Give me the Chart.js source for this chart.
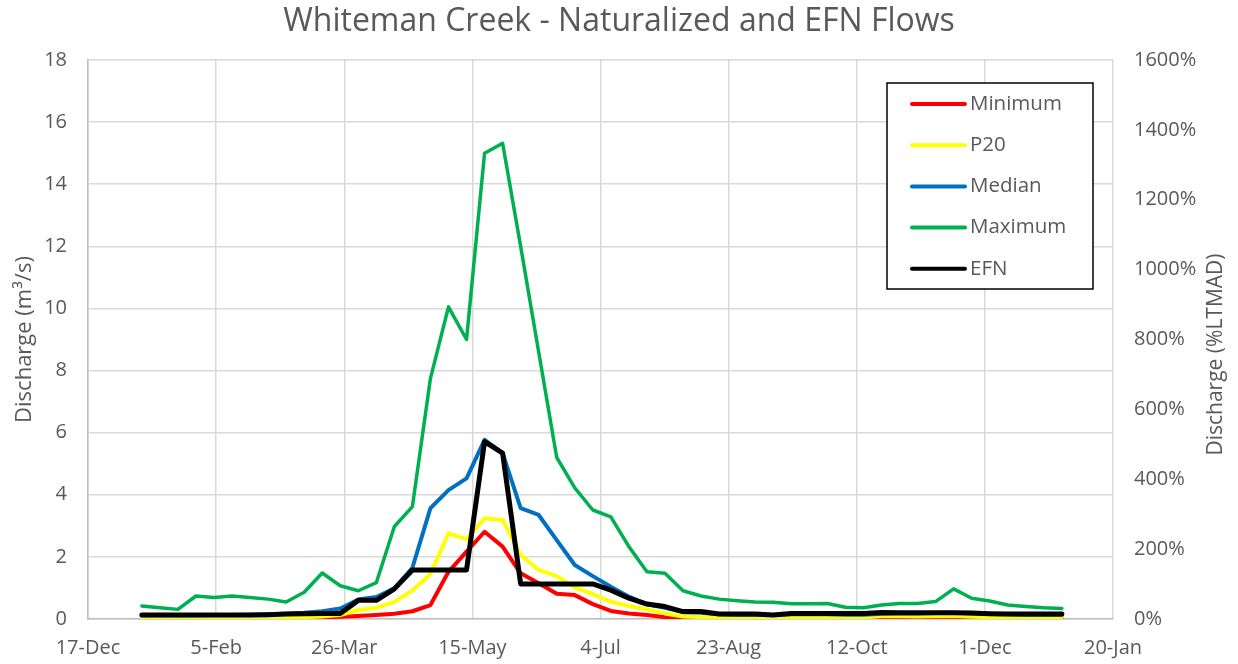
<!DOCTYPE html>
<html>
<head>
<meta charset="utf-8">
<script src="https://cdn.jsdelivr.net/npm/chart.js@4/dist/chart.umd.min.js"></script>
<style>
  html, body { margin: 0; padding: 0; background: #ffffff; }
  #wrap { width: 1238px; height: 664px; }
</style>
</head>
<body>
<div id="wrap"><canvas id="c" width="1238" height="664"></canvas></div>
<script>
// ---- data ----
const chartTitle = 'Whiteman Creek - Naturalized and EFN Flows';
const xTickLabels = ['17-Dec', '5-Feb', '26-Mar', '15-May', '4-Jul', '23-Aug', '12-Oct', '1-Dec', '20-Jan'];
const firstDay = 21;      // days after 17-Dec of first weekly value
const stepDays = 7.04;    // weekly values

const minimum = [0.02,0.02,0.02,0.02,0.02,0.02,0.02,0.02,0.02,0.03,0.05,0.07,0.10,0.13,0.17,0.25,0.45,1.52,2.17,2.81,2.33,1.47,1.15,0.81,0.77,0.48,0.26,0.18,0.13,0.06,0.04,0.03,0.02,0.02,0.02,0.01,0.02,0.02,0.02,0.02,0.03,0.05,0.05,0.04,0.05,0.06,0.04,0.03,0.03,0.03,0.03,0.03];
const p20 = [0.04,0.04,0.04,0.04,0.04,0.04,0.05,0.05,0.05,0.06,0.08,0.13,0.29,0.36,0.55,0.92,1.45,2.76,2.57,3.24,3.19,2.06,1.58,1.38,1.02,0.80,0.56,0.42,0.31,0.18,0.08,0.06,0.05,0.05,0.05,0.04,0.05,0.05,0.05,0.05,0.05,0.09,0.09,0.08,0.09,0.10,0.07,0.06,0.06,0.06,0.06,0.06];
const median = [0.12,0.12,0.12,0.12,0.13,0.13,0.14,0.15,0.17,0.20,0.25,0.34,0.63,0.71,0.99,1.65,3.57,4.15,4.53,5.77,5.34,3.57,3.35,2.54,1.74,1.38,1.04,0.72,0.47,0.36,0.22,0.20,0.15,0.14,0.14,0.13,0.15,0.15,0.15,0.14,0.14,0.17,0.18,0.18,0.19,0.20,0.18,0.16,0.15,0.14,0.14,0.14];
const maximum = [0.42,0.36,0.31,0.74,0.69,0.74,0.69,0.64,0.55,0.86,1.48,1.07,0.91,1.17,2.98,3.62,7.75,10.05,9.00,15.00,15.32,12.00,8.60,5.20,4.22,3.51,3.29,2.33,1.52,1.47,0.91,0.74,0.64,0.59,0.55,0.54,0.49,0.49,0.50,0.38,0.36,0.45,0.50,0.50,0.56,0.97,0.67,0.58,0.45,0.40,0.36,0.34];
const efn = [0.13,0.13,0.13,0.13,0.13,0.13,0.13,0.14,0.16,0.17,0.18,0.18,0.60,0.60,0.97,1.58,1.58,1.58,1.58,5.71,5.34,1.13,1.13,1.13,1.13,1.13,0.93,0.67,0.48,0.40,0.24,0.24,0.16,0.16,0.16,0.13,0.18,0.18,0.18,0.18,0.18,0.21,0.20,0.20,0.20,0.20,0.19,0.17,0.16,0.16,0.16,0.16];

const seriesNames = ['Minimum', 'P20', 'Median', 'Maximum', 'EFN'];
const seriesValues = [minimum, p20, median, maximum, efn];
const seriesColors = ['#FF0000', '#FFFF00', '#0070C0', '#00B050', '#000000'];
const seriesWidths = [4, 4, 4, 3.5, 5];

const leftAxisTitle = 'Discharge (m\u00B3/s)';
const rightAxisTitle = 'Discharge (%LTMAD)';

const FONT = "'Open Sans', 'Liberation Sans', sans-serif";
const TEXT = '#595959';
const GRID = '#d9d9d9';

const toPoints = vals => vals.map((v, i) => ({ x: firstDay + i * stepDays, y: v }));

const datasets = seriesNames.map((name, k) => ({
  label: name,
  data: toPoints(seriesValues[k]),
  borderColor: seriesColors[k],
  backgroundColor: seriesColors[k],
  borderWidth: seriesWidths[k],
  pointRadius: 0,
  tension: 0,
  fill: false,
  order: seriesNames.length - k,
  borderJoinStyle: 'round',
  borderCapStyle: 'round',
  yAxisID: 'y'
}));

// legend box drawn inside the plot area
const boxLegend = {
  id: 'boxLegend',
  afterDatasetsDraw(chart) {
    const { ctx, chartArea } = chart;
    const w = 206, h = 206;
    const x0 = chartArea.right - 20 - w;
    const y0 = chartArea.top + 23;
    ctx.save();
    ctx.fillStyle = '#ffffff';
    ctx.fillRect(x0, y0, w, h);
    ctx.strokeStyle = '#000000';
    ctx.lineWidth = 1.5;
    ctx.strokeRect(x0, y0, w, h);
    ctx.font = "20.5px " + FONT;
    ctx.textBaseline = 'middle';
    ctx.textAlign = 'left';
    chart.data.datasets.forEach((ds, i) => {
      const cy = y0 + 21 + i * 41.2;
      ctx.beginPath();
      ctx.strokeStyle = ds.borderColor;
      ctx.lineWidth = 4;
      ctx.lineCap = 'round';
      ctx.moveTo(x0 + 25, cy);
      ctx.lineTo(x0 + 78, cy);
      ctx.stroke();
      ctx.fillStyle = TEXT;
      ctx.fillText(ds.label, x0 + 83, cy);
    });
    ctx.restore();
  }
};

// right-axis title, reading bottom-to-top like the left one
const rightTitle = {
  id: 'rightTitle',
  afterDraw(chart) {
    const { ctx, chartArea } = chart;
    ctx.save();
    ctx.translate(1216, (chartArea.top + chartArea.bottom) / 2 + 15);
    ctx.rotate(-Math.PI / 2);
    ctx.font = "21px " + FONT;
    ctx.fillStyle = TEXT;
    ctx.textAlign = 'center';
    ctx.textBaseline = 'middle';
    ctx.fillText(rightAxisTitle, 0, 0);
    ctx.restore();
  }
};

new Chart(document.getElementById('c'), {
  type: 'line',
  data: { datasets },
  options: {
    responsive: false,
    animation: false,
    devicePixelRatio: 1,
    layout: { padding: 0 },
    plugins: {
      legend: { display: false },
      tooltip: { enabled: false },
      title: {
        display: true,
        text: chartTitle,
        color: TEXT,
        font: { family: FONT, size: 32, weight: 'normal', lineHeight: 1.2 },
        padding: { top: 3, bottom: 18.6 }
      }
    },
    scales: {
      x: {
        type: 'linear',
        min: 0,
        max: 400,
        afterFit(scale) { scale.height = 45; },
        afterBuildTicks(scale) {
          scale.ticks = xTickLabels.map((_, i) => ({ value: i * 50 }));
        },
        ticks: {
          color: TEXT,
          font: { family: FONT, size: 20 },
          padding: 17,
          maxRotation: 0,
          autoSkip: false,
          callback: (v, i) => xTickLabels[i]
        },
        grid: { color: GRID, lineWidth: 1.5, drawTicks: false },
        border: { color: '#bfbfbf', width: 1.5 }
      },
      y: {
        type: 'linear',
        position: 'left',
        min: 0,
        max: 18,
        afterFit(scale) { scale.width = 88; },
        ticks: {
          stepSize: 2,
          color: TEXT,
          font: { family: FONT, size: 20 },
          padding: 21
        },
        grid: { color: GRID, lineWidth: 1.5, drawTicks: false },
        border: { color: '#bfbfbf', width: 1.5 },
        title: {
          display: true,
          text: leftAxisTitle,
          color: TEXT,
          font: { family: FONT, size: 22 },
          padding: { top: 12, bottom: 0 }
        }
      },
      y2: {
        type: 'linear',
        position: 'right',
        min: 0,
        max: 1600,
        afterFit(scale) { scale.width = 125; },
        ticks: {
          stepSize: 200,
          color: TEXT,
          font: { family: FONT, size: 20 },
          padding: 21,
          callback: v => v + '%'
        },
        grid: { display: false, drawTicks: false },
        border: { display: false }
      }
    }
  },
  plugins: [boxLegend, rightTitle]
});
</script>
</body>
</html>
